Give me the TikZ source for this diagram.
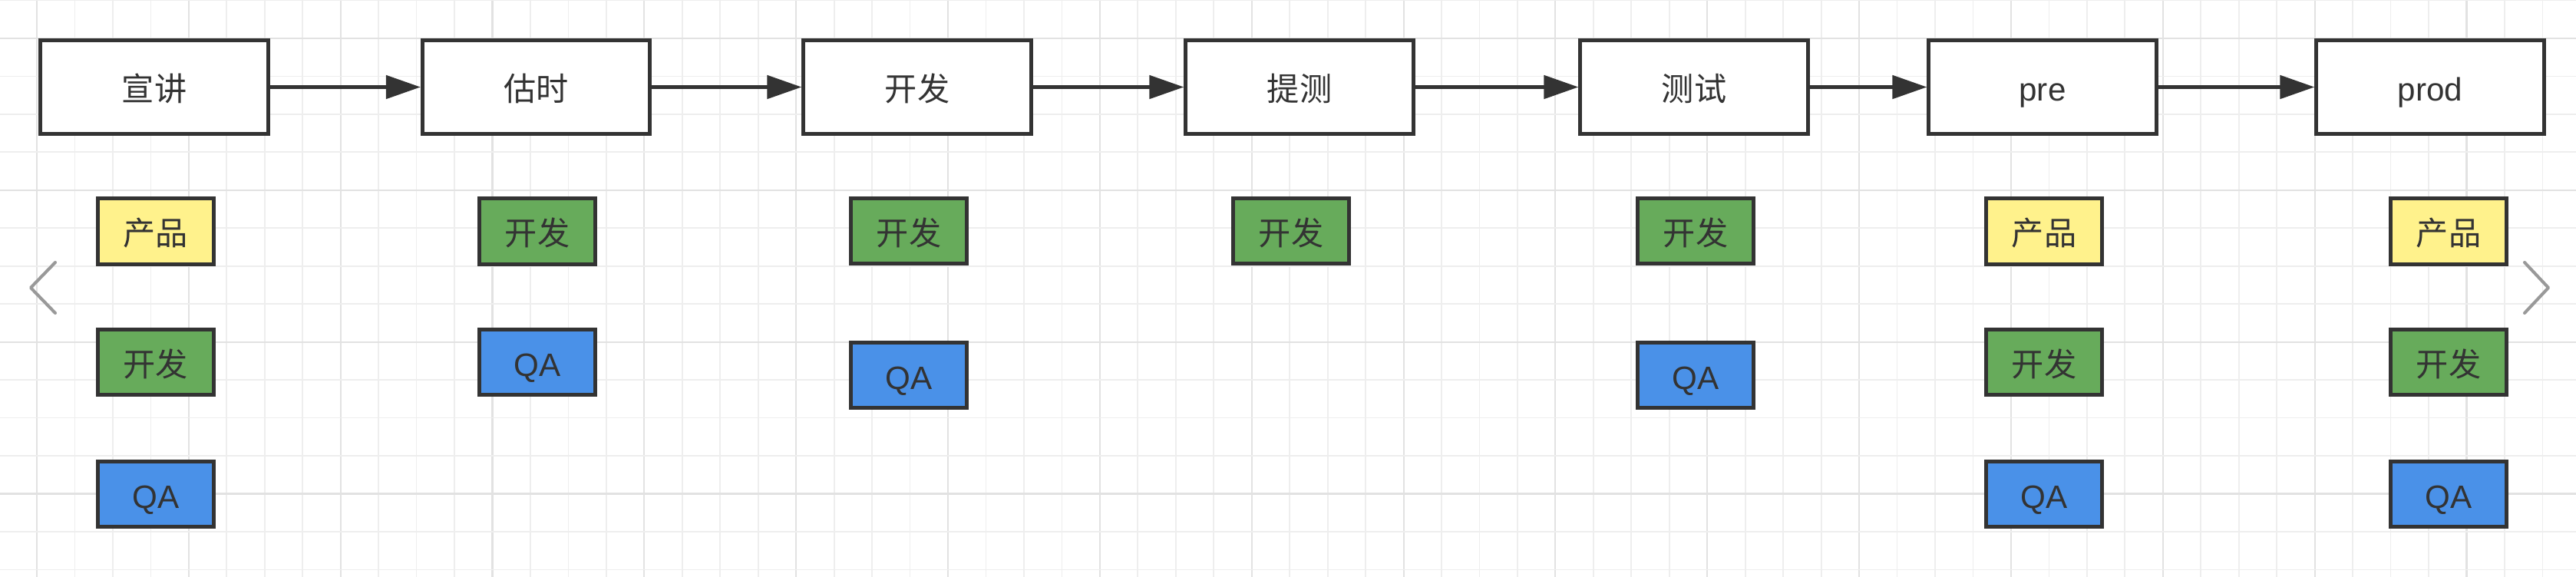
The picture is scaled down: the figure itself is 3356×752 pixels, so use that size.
\documentclass[tikz,border=0pt]{standalone}
\usepackage{fontspec}
\setmainfont{Liberation Sans}
\newfontfamily\cjk{Noto Sans CJK SC}
\usetikzlibrary{arrows.meta}
\definecolor{ink}{HTML}{333333}
\definecolor{gridminor}{HTML}{EEEEEE}
\definecolor{gridmajor}{HTML}{E2E2E2}
\definecolor{chev}{HTML}{999999}
\definecolor{yel}{HTML}{FFF28C}
\definecolor{grn}{HTML}{67AB5B}
\definecolor{blu}{HTML}{4A91E8}
\tikzset{
  basebox/.style={draw=ink, line width=1.42pt, inner sep=0pt, text=ink, text height=0.4cm, text depth=0.04cm, font=\fontsize{12pt}{14pt}\selectfont},
  mainbox/.style={basebox, fill=white, minimum width=2.96cm, minimum height=1.21cm},
  rolebox/.style={basebox, minimum width=1.51cm, minimum height=0.85cm},
  prodrole/.style={rolebox, fill=yel},
  devrole/.style={rolebox, fill=grn},
  qarole/.style={rolebox, fill=blu},
  flow/.style={draw=ink, line width=1.42pt, -{Triangle[length=4.5mm,width=3mm]}},
  chevron/.style={draw=chev, line width=1.15pt, line cap=round, line join=round}
}
\begin{document}
\begin{tikzpicture}[x=0.01cm, y=-0.01cm]
\fill[white] (0,0) rectangle (3356,752);
\useasboundingbox (0,0) rectangle (3356,752);
% grid
\foreach \k in {-1,...,67} {
  \pgfmathsetmacro{\gx}{48+49.46*\k}
  \pgfmathtruncatemacro{\m}{mod(\k+4,4)}
  \ifnum\m=0
    \draw[gridmajor, line width=0.6pt] (\gx,0) -- (\gx,752);
  \else
    \draw[gridminor, line width=0.5pt] (\gx,0) -- (\gx,752);
  \fi
}
\foreach \k in {-1,...,14} {
  \pgfmathsetmacro{\gy}{50+49.46*\k}
  \pgfmathtruncatemacro{\m}{mod(\k+4,4)}
  \ifnum\m=0
    \draw[gridmajor, line width=0.6pt] (0,\gy) -- (3356,\gy);
  \else
    \draw[gridminor, line width=0.5pt] (0,\gy) -- (3356,\gy);
  \fi
}
% main flow
\node[mainbox] (s1) at (201,113.5) {\cjk 宣讲};
\node[mainbox] (s2) at (698.5,113.5) {\cjk 估时};
\node[mainbox] (s3) at (1195,113.5) {\cjk 开发};
\node[mainbox] (s4) at (1693,113.5) {\cjk 提测};
\node[mainbox] (s5) at (2207,113.5) {\cjk 测试};
\node[mainbox] (s6) at (2661,113.5) {pre};
\node[mainbox] (s7) at (3166,113.5) {prod};
\draw[flow] (s1) -- (s2);
\draw[flow] (s2) -- (s3);
\draw[flow] (s3) -- (s4);
\draw[flow] (s4) -- (s5);
\draw[flow] (s5) -- (s6);
\draw[flow] (s6) -- (s7);
% roles
\node[prodrole] (r1a) at (203,301.5) {\cjk 产品};
\node[devrole]  (r1b) at (203,472) {\cjk 开发};
\node[qarole]   (r1c) at (203,644) {QA};
\node[devrole]  (r2a) at (700,301.5) {\cjk 开发};
\node[qarole]   (r2b) at (700,472) {QA};
\node[devrole]  (r3a) at (1184,301) {\cjk 开发};
\node[qarole]   (r3b) at (1184,489) {QA};
\node[devrole]  (r4a) at (1682,301) {\cjk 开发};
\node[devrole]  (r5a) at (2209,301) {\cjk 开发};
\node[qarole]   (r5b) at (2209,489) {QA};
\node[prodrole] (r6a) at (2663,301.5) {\cjk 产品};
\node[devrole]  (r6b) at (2663,472) {\cjk 开发};
\node[qarole]   (r6c) at (2663,644) {QA};
\node[prodrole] (r7a) at (3190,301.5) {\cjk 产品};
\node[devrole]  (r7b) at (3190,472) {\cjk 开发};
\node[qarole]   (r7c) at (3190,644) {QA};
% navigation chevrons
\draw[chevron] (72,342) -- (40,375) -- (72,408);
\draw[chevron] (3289,342) -- (3320,375) -- (3289,408);
\end{tikzpicture}
\end{document}
